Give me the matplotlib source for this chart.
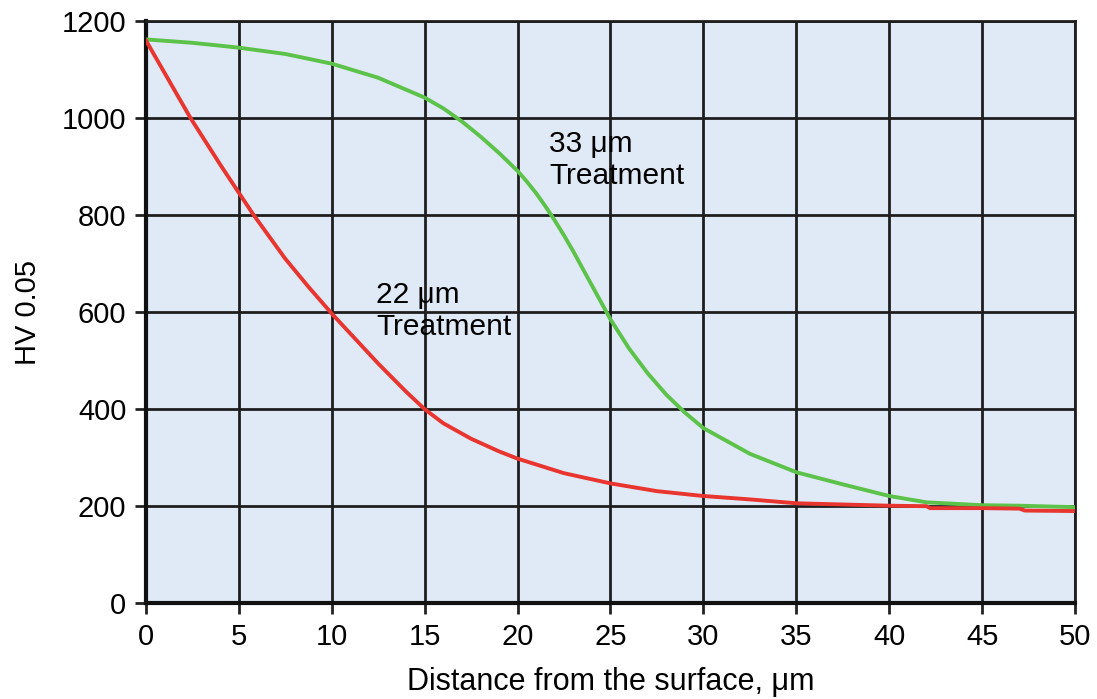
import matplotlib
matplotlib.use('Agg')
import matplotlib.pyplot as plt

plt.rcParams.update({
    'font.family': ['Liberation Sans', 'DejaVu Sans'],
    'font.size': 21,
})

# Hardness profiles
dist_33 = [0, 2.5, 5, 7.5, 10, 12.5, 15, 16, 17, 18, 19, 20, 20.5, 21, 21.5, 22, 22.5,
           23, 24, 25, 26, 27, 28, 29, 30, 32.5, 35, 37.5, 40, 42, 45, 47, 50]
hv_33 = [1162, 1155, 1145, 1132, 1112, 1083, 1042, 1020, 993, 962, 928, 891, 869, 845,
         818, 789, 758, 725, 655, 585, 525, 474, 430, 393, 361, 308, 270, 245, 221, 208,
         202, 201, 198]

dist_22 = [0, 1.2, 2.4, 4, 5, 5.8, 7.5, 8.75, 10, 12.5, 14, 15, 16, 17.5, 19, 20, 22.5,
           25, 27.5, 30, 32.5, 35, 37, 40, 42, 42.2, 45, 47, 47.3, 50]
hv_22 = [1160, 1080, 1000, 904, 846, 800, 710, 652, 597, 494, 436, 400, 371, 339, 313,
         298, 268, 247, 231, 221, 214, 206, 204, 201, 200, 196, 196, 195, 191, 190]

x_ticks = list(range(0, 51, 5))
y_ticks = list(range(0, 1201, 200))

fig = plt.figure(figsize=(10.97, 6.99), dpi=100)
ax = fig.add_axes([0.133, 0.137, 0.847, 0.833])
ax.set_facecolor('#e0eaf6')

ax.plot(dist_33, hv_33, color='#5cc24a', lw=2.8, zorder=3)
ax.plot(dist_22, hv_22, color='#e8352f', lw=2.8, zorder=3)

ax.set_xlim(0, 50)
ax.set_ylim(0, 1200)
ax.set_xticks(x_ticks)
ax.set_yticks(y_ticks)
ax.grid(True, color='#1e1e1e', lw=2)
ax.set_axisbelow(True)

for side in ['top', 'right']:
    ax.spines[side].set_linewidth(2)
    ax.spines[side].set_color('#1e1e1e')
for side in ['left', 'bottom']:
    ax.spines[side].set_linewidth(3)
    ax.spines[side].set_color('#111111')
ax.tick_params(direction='out', length=8, width=2, color='#222222', pad=6)

ax.text(21.7, 976, '33 μm\nTreatment', fontsize=21.5, va='top', ha='left',
        linespacing=1.2, zorder=4)
ax.text(12.4, 664, '22 μm\nTreatment', fontsize=21.5, va='top', ha='left',
        linespacing=1.2, zorder=4)

ax.set_xlabel('Distance from the surface, μm', fontsize=22, labelpad=12)
ax.set_ylabel('HV 0.05', fontsize=21, labelpad=14)

fig.savefig('out.png', dpi=100)
